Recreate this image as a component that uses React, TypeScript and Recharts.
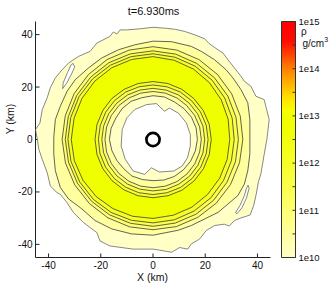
import React from 'react';
import { ScatterChart, Scatter, XAxis, YAxis, ReferenceArea, ComposedChart, Curve } from 'recharts';

const FONT = '"Liberation Sans", Arial, Helvetica, sans-serif';

const TITLE = 't=6.930ms';
const X_LABEL = 'X (km)';
const Y_LABEL = 'Y (km)';
const AXIS_DOMAIN: [number, number] = [-45, 45];
const X_TICKS = [-40, -20, 0, 20, 40];
const Y_TICKS = [-40, -20, 0, 20, 40];

const CB_DOMAIN: [number, number] = [1e10, 1e15];
const CB_TICKS = [1e10, 3.162e10, 1e11, 3.162e11, 1e12, 3.162e12, 1e13, 3.162e13, 1e14, 3.162e14, 1e15];
const CB_TICK_LABELS = ['1e10', '', '1e11', '', '1e12', '', '1e13', '', '1e14', '', '1e15'];
const CB_UNIT_SYMBOL = 'ρ';
const CB_UNIT = 'g/cm';

// band fills from the 1e10 band up to the peak band
const BAND_COLORS = ['#ffffc6', '#ffff9e', '#ffff70', '#fcff48', '#f7ff22', '#f0ff00'];

// contour outlines in km
const OUTER_L0: [number, number][] = [
  [0, 42.8], [5.1, 42.4], [8.6, 42.0], [12.2, 41.2], [16.0, 39.9], [19.8, 38.4], [21.6, 36.5], [24.9, 34.2],
  [26.8, 33.0], [28.7, 30.4], [31.2, 27.3], [33.7, 24.1], [35.0, 22.2], [37.5, 20.3], [39.4, 16.5], [42.6, 15.2],
  [43.2, 12.7], [44.5, 7.6], [43.9, 2.5], [43.6, 0], [42.6, -5.6], [41.3, -13.2], [40.4, -16.0], [39.5, -21.0],
  [38.6, -25.0], [37.2, -28.8], [33.7, -29.9], [31.2, -30.9], [29.2, -33.0], [27.3, -32.3], [23.6, -32.8],
  [20.4, -34.7], [17.8, -38.0], [14.7, -39.8], [13.3, -41.8], [10.2, -41.2], [7.1, -43.0], [2.5, -42.2],
  [0, -41.8], [-7.6, -41.8], [-16.5, -40.6], [-20.3, -38.7], [-21.5, -35.5], [-26.6, -31.7], [-30.4, -27.9],
  [-32.9, -24.1], [-35.5, -20.9], [-36.7, -20.3], [-39.3, -17.8], [-40.5, -12.7], [-42.4, -7.6], [-43.7, -3.8],
  [-44.3, 0], [-45.0, 3.8], [-43.3, 6.3], [-42.4, 11.4], [-40.5, 16.0], [-39.3, 19.8], [-37.4, 23.5],
  [-34.8, 26.6], [-32.3, 29.2], [-28.5, 31.7], [-24.1, 33.6], [-21.5, 36.8], [-16.5, 39.3], [-15.2, 41.0],
  [-13.8, 40.2], [-12.6, 41.8], [-10.1, 41.8], [-5.1, 42.2],
];

const ISLAND_NW: [number, number][] = [
  [-30.6, 29.0], [-30.0, 27.6], [-31.2, 25.0], [-33.0, 21.6], [-34.6, 19.4], [-34.4, 21.6], [-32.7, 25.6], [-31.3, 28.6],
];
const ISLAND_SE: [number, number][] = [
  [36.4, -17.4], [36.8, -18.6], [35.8, -22.3], [34.1, -26.0], [32.2, -28.3], [31.6, -27.9], [33.3, -25.2], [35.0, -21.4], [35.8, -18.6],
];

const OUTER_L1: [number, number][] = [
  [0, 37.5], [7.1, 37.3], [14.7, 35.5], [18.5, 33.6], [23.6, 30.4], [28.0, 26.6], [30.6, 23.5], [33.7, 19.0],
  [36.3, 14.0], [37.1, 7.6], [37.1, 0], [37.1, -5.6], [36.3, -11.9], [35.0, -17.0], [32.5, -21.4], [28.7, -24.6],
  [24.9, -27.8], [19.8, -30.3], [14.7, -32.8], [9.7, -34.6], [0, -36.5], [-8.2, -36.0], [-15.8, -34.1],
  [-22.2, -30.9], [-27.2, -26.5], [-32.3, -22.7], [-35.5, -18.3], [-37.4, -11.9], [-38.0, -5.6], [-38.0, 0.8],
  [-37.4, 7.6], [-35.5, 12.7], [-32.9, 18.4], [-29.8, 22.8], [-24.7, 27.3], [-19.6, 31.1], [-13.3, 34.2], [-7.0, 36.1],
];

// ring contours as radii (km) at these polar angles (degrees, counter-clockwise from +X)
const ANGLES = [0, 15, 30, 45, 60, 75, 90, 105, 120, 135, 150, 165, 180, 195, 210, 225, 240, 255, 270, 285, 300, 315, 330, 345];
const OUTER_L2 = [34.4, 34.6, 34.8, 35.0, 35.2, 35.3, 35.4, 35.3, 35.2, 35.0, 34.9, 34.8, 34.8, 34.7, 34.6, 34.5, 34.5, 34.5, 34.4, 34.4, 34.3, 34.3, 34.3, 34.3];
const OUTER_L3 = [32.7, 32.9, 33.1, 33.3, 33.5, 33.7, 33.8, 33.8, 33.8, 33.7, 33.7, 33.6, 33.6, 33.5, 33.4, 33.3, 33.2, 33.1, 33.1, 33.0, 32.9, 32.8, 32.7, 32.7];
const OUTER_L4 = [31.1, 31.4, 31.7, 32.0, 32.3, 32.5, 32.7, 32.7, 32.7, 32.7, 32.7, 32.6, 32.6, 32.5, 32.4, 32.3, 32.1, 31.9, 31.8, 31.7, 31.5, 31.4, 31.2, 31.1];
const OUTER_L5 = [29.4, 29.8, 30.2, 30.6, 31.0, 31.3, 31.6, 31.6, 31.6, 31.5, 31.4, 31.3, 31.3, 31.2, 31.0, 30.8, 30.5, 30.3, 30.1, 29.9, 29.8, 29.6, 29.5, 29.4];
const INNER_L5 = [22.3, 22.3, 22.2, 22.1, 22.1, 22.1, 22.1, 22.1, 22.1, 22.2, 22.2, 22.2, 22.2, 22.2, 22.2, 22.2, 22.2, 22.2, 22.2, 22.2, 22.3, 22.3, 22.3, 22.3];
const INNER_L4 = [21.1, 21.1, 21.0, 20.9, 20.9, 20.8, 20.8, 20.8, 20.9, 20.9, 20.9, 20.9, 20.9, 21.0, 21.0, 21.0, 21.0, 21.0, 21.0, 21.0, 21.1, 21.1, 21.1, 21.1];
const INNER_L3 = [19.8, 19.8, 19.7, 19.6, 19.6, 19.5, 19.5, 19.5, 19.6, 19.6, 19.6, 19.6, 19.6, 19.6, 19.6, 19.6, 19.6, 19.6, 19.6, 19.7, 19.7, 19.8, 19.8, 19.8];
const INNER_L2 = [18.5, 18.5, 18.4, 18.3, 18.3, 18.3, 18.3, 18.3, 18.3, 18.4, 18.4, 18.4, 18.4, 18.4, 18.4, 18.4, 18.4, 18.4, 18.4, 18.4, 18.5, 18.5, 18.5, 18.5];
const INNER_L1 = [17.0, 17.1, 17.0, 16.7, 16.5, 16.8, 16.7, 16.5, 16.8, 16.7, 16.4, 16.6, 16.7, 16.3, 16.0, 15.8, 16.1, 15.8, 15.7, 16.0, 16.3, 16.4, 16.6, 16.8];

const HOLE: [number, number][] = [
  [-2.5, 13.3], [1.3, 13.7], [4.4, 10.8], [6.3, 12.0], [9.8, 10.0], [12.8, 6.3], [14.3, 1.9], [14.3, -2.5],
  [13.2, -7.0], [11.2, -10.1], [8.0, -12.0], [2.5, -12.4], [-0.6, -10.8], [-3.2, -13.3], [-7.6, -12.0],
  [-10.6, -7.6], [-12.2, -2.5], [-11.8, 3.8], [-10.0, 8.3], [-7.0, 11.4],
];

const CENTER: [number, number][] = [[0, 0]];

const fromPairs = (pts: [number, number][]) => pts.map(([x, y]) => ({ x, y }));
const fromPolar = (radii: number[]) =>
  radii.map((r, i) => ({ x: r * Math.cos((ANGLES[i] * Math.PI) / 180), y: r * Math.sin((ANGLES[i] * Math.PI) / 180) }));

const LINE_DARK = '#3c3c3c';
const LINE_GREY = '#6a6a6a';

const LAYERS = [
  { pts: fromPairs(OUTER_L0), fill: BAND_COLORS[0], stroke: LINE_GREY },
  { pts: fromPairs(ISLAND_NW), fill: '#ffffff', stroke: LINE_GREY },
  { pts: fromPairs(ISLAND_SE), fill: '#ffffff', stroke: LINE_GREY },
  { pts: fromPairs(OUTER_L1), fill: BAND_COLORS[1], stroke: LINE_DARK },
  { pts: fromPolar(OUTER_L2), fill: BAND_COLORS[2], stroke: LINE_DARK },
  { pts: fromPolar(OUTER_L3), fill: BAND_COLORS[3], stroke: LINE_DARK },
  { pts: fromPolar(OUTER_L4), fill: BAND_COLORS[4], stroke: LINE_DARK },
  { pts: fromPolar(OUTER_L5), fill: BAND_COLORS[5], stroke: LINE_DARK },
  { pts: fromPolar(INNER_L5), fill: BAND_COLORS[4], stroke: LINE_DARK },
  { pts: fromPolar(INNER_L4), fill: BAND_COLORS[3], stroke: LINE_DARK },
  { pts: fromPolar(INNER_L3), fill: BAND_COLORS[2], stroke: LINE_DARK },
  { pts: fromPolar(INNER_L2), fill: BAND_COLORS[1], stroke: LINE_DARK },
  { pts: fromPolar(INNER_L1), fill: BAND_COLORS[0], stroke: LINE_DARK },
  { pts: fromPairs(HOLE), fill: '#ffffff', stroke: LINE_GREY },
];

const NoDot = () => <g />;
const makeLine = (fill: string, stroke: string) => (p: any) => (
  <Curve points={p.points} type="linearClosed" fill={fill} stroke={stroke} strokeWidth={0.8} />
);
const CenterRing = (p: any) => (
  <circle cx={p.cx} cy={p.cy} r={6.6} fill="none" stroke="#000" strokeWidth={2.7} />
);

const tickStyle = { fill: '#111', fontSize: 10, fontFamily: FONT };
const blank = () => '';

export default function App() {
  return (
    <div style={{ position: 'absolute', left: 0, top: 0, width: 332, height: 284, background: '#fff', overflow: 'hidden' }}>
      <div style={{ position: 'absolute', left: 0, top: 0 }}>
        <ScatterChart width={332} height={284} margin={{ top: 21.5, right: 61.5, bottom: 0, left: 0 }}>
          <XAxis type="number" dataKey="x" domain={AXIS_DOMAIN} ticks={X_TICKS} allowDataOverflow height={26.5}
            tickSize={-4} tickMargin={8.5} stroke="#222" tick={tickStyle} interval={0} />
          <XAxis xAxisId="top" orientation="top" type="number" dataKey="x" domain={AXIS_DOMAIN} ticks={X_TICKS}
            allowDataOverflow height={0} tickSize={-4} tickFormatter={blank} stroke="#222" interval={0} />
          <YAxis type="number" dataKey="y" domain={AXIS_DOMAIN} ticks={Y_TICKS} allowDataOverflow width={35.5}
            tickSize={-4} tickMargin={7} stroke="#222" tick={tickStyle} interval={0} />
          <YAxis yAxisId="right" orientation="right" type="number" dataKey="y" domain={AXIS_DOMAIN} ticks={Y_TICKS}
            allowDataOverflow width={0} tickSize={-4} tickFormatter={blank} stroke="#222" interval={0} />
          {LAYERS.map((L, i) => (
            <Scatter key={i} data={L.pts} isAnimationActive={false} shape={NoDot} line={makeLine(L.fill, L.stroke)} />
          ))}
          <Scatter data={fromPairs(CENTER)} isAnimationActive={false} shape={CenterRing} />
        </ScatterChart>
      </div>
      <div style={{ position: 'absolute', left: 260, top: 0 }}>
        <ComposedChart width={72} height={284} data={CB_TICKS.map((v) => ({ v, p: 0.5 }))}
          margin={{ top: 21.5, right: 0, bottom: 26.5, left: 21.5 }}>
          <defs>
            <linearGradient id="cbGrad" x1="0" y1="0" x2="0" y2="1">
              <stop offset="0" stopColor="#ff0000" />
              <stop offset="0.08" stopColor="#ff0a00" />
              <stop offset="0.14" stopColor="#ff4200" />
              <stop offset="0.2" stopColor="#ff8000" />
              <stop offset="0.27" stopColor="#ffb800" />
              <stop offset="0.33" stopColor="#ffe400" />
              <stop offset="0.38" stopColor="#f8ff00" />
              <stop offset="0.43" stopColor="#f0ff00" />
              <stop offset="0.52" stopColor="#f3ff12" />
              <stop offset="0.62" stopColor="#f7ff2e" />
              <stop offset="0.72" stopColor="#fbff52" />
              <stop offset="0.82" stopColor="#ffff7a" />
              <stop offset="0.91" stopColor="#ffffa2" />
              <stop offset="1" stopColor="#ffffc8" />
            </linearGradient>
          </defs>
          <XAxis type="number" dataKey="p" domain={[0, 1]} allowDataOverflow hide />
          <YAxis yAxisId="cb" orientation="right" type="number" dataKey="v" scale="log" domain={CB_DOMAIN} ticks={CB_TICKS}
            allowDataOverflow width={36.5} tickSize={-3} tickMargin={6} stroke="#333" interval={0}
            tick={{ fill: '#111', fontSize: 9.5, fontFamily: FONT }}
            tickFormatter={(v: number) => CB_TICK_LABELS[CB_TICKS.indexOf(v)] ?? ''} />
          <YAxis yAxisId="cbl" orientation="left" type="number" dataKey="v" scale="log" domain={CB_DOMAIN} ticks={CB_TICKS}
            allowDataOverflow width={0} tickSize={-3} tickFormatter={blank} stroke="#333" interval={0} />
          <ReferenceArea yAxisId="cb" y1={CB_DOMAIN[0]} y2={CB_DOMAIN[1]} fill="url(#cbGrad)"
            fillOpacity={1} stroke="#333" strokeWidth={1} ifOverflow="visible" />
        </ComposedChart>
      </div>
      <div style={{ position: 'absolute', left: 153.5, top: 11, transform: 'translate(-50%, -50%)', fontFamily: FONT, fontSize: 11, lineHeight: 1, whiteSpace: 'nowrap', color: '#111' }}>{TITLE}</div>
      <div style={{ position: 'absolute', left: 152.5, top: 276.5, transform: 'translate(-50%, -50%)', fontFamily: FONT, fontSize: 10.5, lineHeight: 1, whiteSpace: 'nowrap', color: '#111' }}>{X_LABEL}</div>
      <div style={{ position: 'absolute', left: 10, top: 119, transform: 'translate(-50%, -50%) rotate(-90deg)', fontFamily: FONT, fontSize: 10.5, lineHeight: 1, whiteSpace: 'nowrap', color: '#111' }}>{Y_LABEL}</div>
      <div style={{ position: 'absolute', left: 301, top: 31.5, transform: 'translate(0, -50%)', fontFamily: FONT, fontSize: 10, lineHeight: 1, whiteSpace: 'nowrap', color: '#111' }}>{CB_UNIT_SYMBOL}</div>
      <div style={{ position: 'absolute', left: 302.5, top: 43.5, transform: 'translate(0, -50%)', fontFamily: FONT, fontSize: 10, lineHeight: 1, whiteSpace: 'nowrap', color: '#111' }}>{CB_UNIT}<sup style={{ fontSize: 7, verticalAlign: 'top', position: 'relative', top: -3 }}>3</sup></div>
    </div>
  );
}
